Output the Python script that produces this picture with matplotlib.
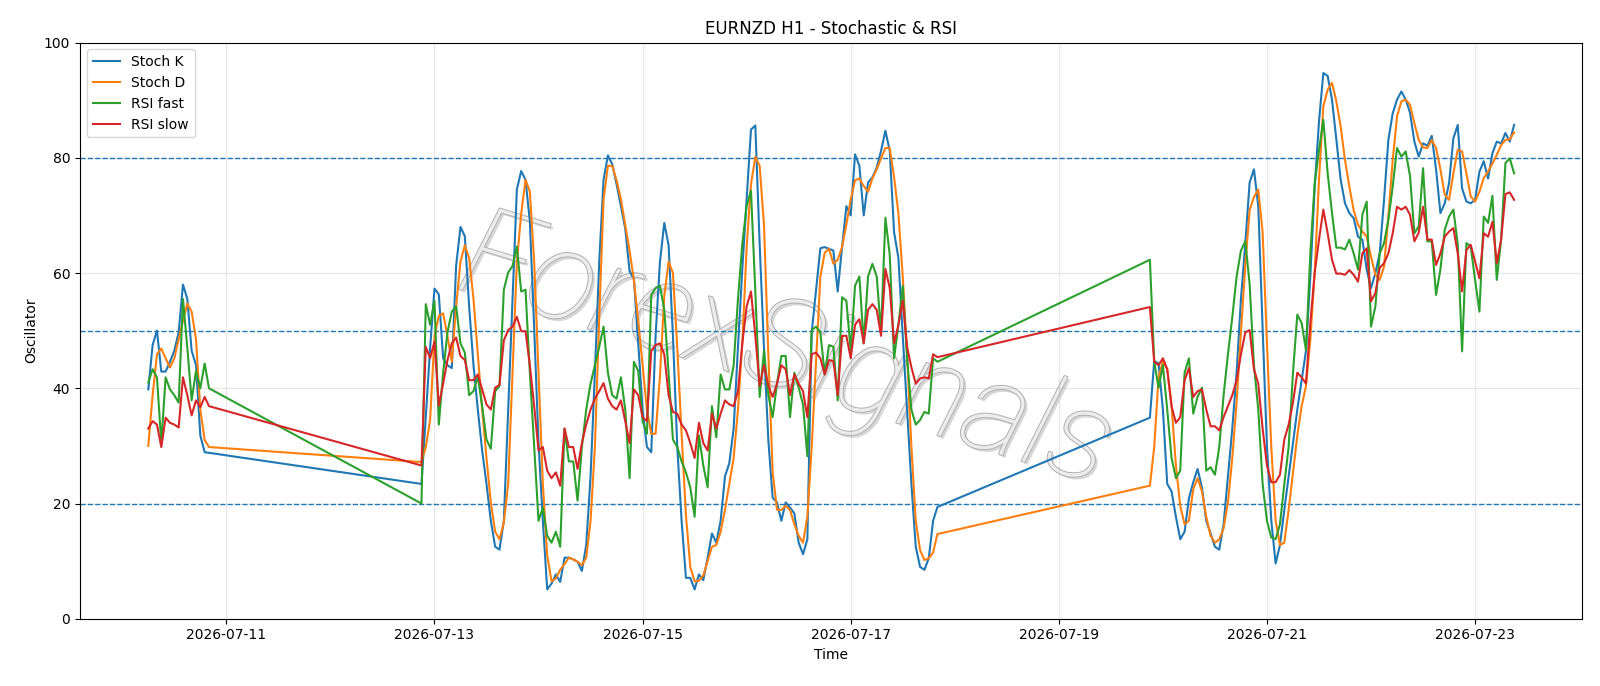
import matplotlib
matplotlib.use("Agg")
import matplotlib.pyplot as plt
import matplotlib.dates as mdates
import matplotlib.patheffects as pe
import numpy as np
import pandas as pd

# hourly bars, three trading stretches (weekends missing)
seg_starts = ["2026-07-10 06:00", "2026-07-12 21:00", "2026-07-19 21:00"]
seg_ends = ["2026-07-10 20:00", "2026-07-17 20:00", "2026-07-23 09:00"]

stoch_k = [
    39.8, 47.5, 50.0, 42.9, 42.9, 44.6, 46.5, 49.7, 58.0, 55.5, 46.5, 44.0, 31.8, 28.9, 28.8,
    23.4, 35.0, 47.0, 57.3, 56.3, 45.2, 44.0, 43.5, 61.3, 68.0,
    66.4, 54.2, 44.0, 36.3, 29.2, 23.4, 17.0, 12.5, 12.0, 17.0,
    36.3, 55.5, 74.5, 77.7, 76.2, 69.0, 50.4, 30.5, 17.0, 5.1,
    6.1, 7.7, 6.4, 10.6, 10.6, 10.3, 9.9, 8.3, 12.8, 24.7,
    42.7, 61.9, 76.2, 80.4, 78.9, 75.4, 71.6, 67.7, 60.3, 59.0,
    47.8, 36.3, 29.8, 28.9, 49.1, 61.9, 68.7, 64.8, 49.1, 29.8,
    17.0, 7.1, 7.1, 5.1, 7.7, 6.7, 10.6, 14.8, 13.2, 17.0,
    24.7, 27.0, 33.0, 47.2, 60.7, 72.8, 84.9, 85.6, 65.0, 47.0,
    31.0, 21.0, 20.2, 17.0, 20.2, 19.3, 18.3, 13.2, 11.2, 13.8,
    49.7, 57.0, 64.3, 64.5, 64.2, 63.9, 56.8, 64.5, 71.6, 70.0,
    80.6, 78.6, 70.0, 75.7, 76.6, 78.3, 81.2, 84.7, 81.2, 67.1,
    62.6, 49.1, 36.3, 23.4, 12.5, 9.0, 8.5, 10.5, 17.0, 19.4,
    34.9, 44.7, 44.3, 36.3, 23.4, 22.1, 17.7, 13.8, 15.1, 20.9,
    23.7, 26.0, 22.8, 17.0, 14.8, 12.5, 12.0, 16.4, 24.7, 33.0,
    42.7, 55.5, 65.1, 75.7, 78.0, 71.6, 50.4, 29.8, 17.0, 9.6,
    12.8, 18.9, 24.7, 30.5, 36.3, 41.4, 46.5, 59.4, 74.8, 86.3,
    94.7, 94.2, 90.1, 83.1, 76.2, 72.1, 70.4, 69.5, 66.3, 65.8,
    60.6, 57.4, 60.0, 63.4, 72.7, 83.1, 87.7, 90.1, 91.5, 90.1,
    87.8, 82.8, 80.2, 82.5, 82.1, 83.8, 78.0, 70.4, 72.1, 75.6,
    83.4, 85.7, 74.7, 72.4, 72.1, 72.7, 77.6, 79.4, 76.4, 80.8,
    82.8, 82.5, 84.3, 82.8, 85.7,
]

stoch_d = [
    30.0, 38.8, 45.9, 46.9, 45.2, 43.6, 45.2, 48.5, 51.7, 54.7, 53.3, 48.5, 36.3, 31.0, 29.8,
    27.2, 29.8, 34.5, 49.0, 52.6, 53.0, 49.0, 44.6, 54.2, 62.0,
    64.8, 62.6, 55.5, 45.9, 36.3, 27.9, 20.2, 15.1, 13.8, 16.7,
    23.4, 42.7, 61.9, 70.3, 76.2, 74.1, 61.9, 42.7, 23.4, 11.0,
    6.5, 7.0, 8.5, 9.5, 10.6, 10.3, 9.9, 9.3, 10.6, 17.0,
    29.8, 52.3, 72.8, 78.6, 78.6, 76.1, 72.8, 68.4, 63.9, 58.7,
    51.7, 44.0, 36.3, 32.1, 32.1, 42.0, 56.0, 62.0, 60.0, 47.0,
    32.0, 18.0, 9.0, 6.5, 6.6, 7.5, 10.0, 12.5, 12.8, 15.1,
    18.9, 23.4, 27.9, 36.3, 47.8, 64.5, 75.4, 80.2, 78.6, 68.4,
    45.9, 25.4, 18.9, 18.9, 19.6, 18.9, 16.4, 14.4, 13.2, 17.7,
    29.8, 44.6, 59.4, 63.5, 64.2, 61.6, 62.3, 64.5, 68.4, 72.8,
    76.1, 76.4, 75.1, 74.1, 76.4, 78.0, 79.9, 81.7, 81.7, 76.7,
    70.3, 59.4, 45.9, 29.8, 17.0, 11.9, 10.2, 10.5, 11.5, 14.7,
    23.1, 29.8, 42.0, 44.6, 43.3, 36.9, 26.6, 19.6, 16.4, 17.0,
    22.5, 24.4, 22.1, 17.7, 14.4, 13.2, 13.8, 15.7, 20.2, 27.9,
    37.5, 49.7, 61.3, 70.9, 73.2, 74.5, 67.1, 47.8, 29.8, 17.0,
    12.8, 13.2, 18.9, 25.4, 31.8, 36.9, 40.4, 48.4, 60.0, 76.2,
    88.9, 91.8, 93.0, 89.8, 85.4, 79.6, 75.0, 70.9, 68.4, 67.2,
    66.3, 62.8, 59.7, 58.8, 61.1, 69.8, 79.6, 87.2, 89.8, 90.1,
    89.2, 86.0, 83.1, 81.8, 81.7, 83.1, 81.7, 78.0, 73.6, 72.7,
    77.3, 81.4, 81.1, 77.3, 73.3, 72.4, 74.1, 76.5, 77.6, 79.0,
    80.5, 82.2, 83.1, 83.2, 84.4,
]

rsi_fast = [
    41.0, 43.3, 41.9, 30.5, 41.9, 39.8, 38.8, 37.5, 55.5, 47.0, 37.9, 43.0, 40.0, 44.3, 40.0,
    20.0, 54.6, 51.0, 55.2, 33.7, 42.7, 49.7, 53.3, 54.2, 47.8,
    46.2, 38.8, 39.5, 42.0, 36.9, 31.1, 29.5, 39.5, 40.4, 57.1,
    60.1, 61.2, 64.6, 56.8, 57.1, 42.7, 29.8, 17.0, 19.3, 14.4,
    13.2, 15.1, 12.5, 33.0, 27.3, 27.3, 20.5, 29.8, 36.3, 40.8,
    44.0, 47.2, 50.7, 42.7, 38.8, 38.2, 41.9, 36.3, 24.4, 44.6,
    43.0, 34.3, 32.1, 56.2, 57.4, 57.8, 53.6, 42.7, 31.1, 29.8,
    27.3, 25.4, 22.8, 17.7, 31.8, 26.6, 22.8, 36.9, 31.5, 42.4,
    39.8, 39.8, 44.0, 55.5, 65.1, 71.6, 74.3, 56.8, 38.5, 46.5,
    38.8, 35.0, 40.8, 45.6, 45.6, 35.0, 42.7, 40.1, 37.2, 28.2,
    50.1, 50.7, 49.7, 42.4, 47.5, 47.2, 37.9, 55.8, 55.2, 46.5,
    57.8, 59.4, 47.8, 59.4, 61.6, 59.4, 49.7, 69.6, 63.2, 45.2,
    51.0, 57.8, 45.2, 36.3, 33.7, 34.5, 35.9, 35.6, 45.2, 44.6,
    62.3, 44.6, 40.1, 44.0, 36.3, 27.9, 24.4, 25.7, 42.7, 45.2,
    35.6, 38.5, 40.1, 25.7, 26.3, 25.0, 29.8, 38.8, 45.9, 52.3,
    59.4, 63.9, 65.5, 58.1, 44.0, 36.3, 23.4, 17.0, 14.1, 13.8,
    16.4, 23.4, 29.8, 42.7, 52.8, 51.3, 46.6, 63.4, 75.5, 81.3,
    86.6, 77.3, 70.4, 64.4, 64.4, 64.1, 65.8, 63.4, 60.6, 70.1,
    72.4, 50.7, 54.2, 63.4, 65.2, 69.2, 75.0, 81.7, 80.2, 81.1,
    76.8, 66.9, 68.1, 78.2, 65.5, 65.5, 56.2, 60.6, 67.5, 69.8,
    71.0, 65.0, 46.4, 65.2, 64.6, 58.8, 53.3, 69.8, 68.7, 73.4,
    58.8, 65.8, 79.1, 79.9, 77.3,
]

rsi_slow = [
    33.0, 34.3, 33.7, 29.8, 34.9, 34.0, 33.7, 33.2, 41.9, 38.8, 35.3, 37.9, 36.7, 38.5, 36.9,
    26.6, 47.2, 45.2, 48.1, 37.0, 40.8, 44.9, 47.8, 48.8, 45.6,
    44.9, 41.4, 41.4, 42.4, 39.8, 37.2, 36.3, 40.1, 40.6, 48.3,
    50.1, 50.7, 52.4, 49.9, 49.9, 44.0, 36.9, 29.2, 29.8, 25.7,
    24.4, 25.4, 23.1, 33.0, 29.8, 29.8, 26.0, 30.5, 33.7, 36.3,
    38.2, 39.5, 40.9, 38.2, 36.9, 36.3, 37.9, 34.3, 30.5, 39.8,
    38.8, 35.0, 34.3, 46.5, 47.5, 47.8, 45.9, 38.8, 35.9, 35.6,
    33.7, 32.7, 30.5, 27.9, 34.0, 30.5, 29.2, 35.6, 33.0, 35.6,
    37.9, 37.2, 36.9, 39.5, 47.8, 54.2, 56.8, 49.1, 40.4, 44.0,
    40.4, 38.5, 40.8, 44.0, 43.3, 38.8, 42.4, 40.8, 39.5, 35.0,
    45.9, 46.2, 45.2, 42.4, 44.9, 44.7, 38.8, 49.1, 49.1, 45.2,
    51.0, 52.0, 47.8, 53.6, 54.6, 53.6, 49.1, 60.7, 57.4, 47.8,
    51.0, 55.2, 47.2, 43.6, 40.8, 41.7, 41.9, 41.7, 45.9, 45.4,
    54.1, 44.6, 44.0, 45.2, 43.3, 36.9, 34.0, 35.0, 41.4, 43.5,
    38.5, 39.5, 39.8, 36.3, 33.4, 33.4, 32.7, 35.0, 36.9, 38.8,
    41.4, 45.9, 49.7, 50.1, 43.3, 40.8, 33.0, 26.6, 23.7, 23.7,
    25.0, 31.1, 33.7, 37.5, 42.7, 41.9, 40.8, 51.3, 60.0, 65.8,
    71.0, 66.9, 62.3, 59.9, 59.9, 59.7, 60.5, 59.7, 58.5, 63.4,
    64.3, 55.1, 56.5, 60.9, 61.7, 63.4, 66.9, 71.5, 71.0, 71.5,
    70.1, 65.5, 67.0, 71.5, 65.8, 65.8, 61.4, 63.4, 66.3, 67.2,
    67.8, 63.4, 56.8, 64.0, 64.9, 62.0, 59.1, 66.9, 66.3, 68.9,
    61.7, 65.8, 73.7, 74.0, 72.7,
]

levels = [80, 50, 20]
tick_days = ["2026-07-11", "2026-07-13", "2026-07-15", "2026-07-17",
             "2026-07-19", "2026-07-21", "2026-07-23"]

times = pd.DatetimeIndex(np.concatenate([
    pd.date_range(s, e, freq="h").values for s, e in zip(seg_starts, seg_ends)
]))

fig, ax = plt.subplots(figsize=(16, 6.86), dpi=100)
fig.subplots_adjust(left=0.05, right=0.989, top=0.938, bottom=0.098)

# watermark
ax.text(0.47, 0.46, "ForexSignals", transform=ax.transAxes,
        ha="center", va="center", rotation=-17, fontsize=90,
        family=["Roboto", "DejaVu Sans"], weight="light", style="italic",
        color="#ececec", zorder=1,
        path_effects=[pe.withSimplePatchShadow(offset=(2, -2), shadow_rgbFace="#999999", alpha=0.4),
                      pe.Stroke(linewidth=1.4, foreground="#b0b0b0"), pe.Normal()])

ax.plot(times, stoch_k, label="Stoch K", zorder=3)
ax.plot(times, stoch_d, label="Stoch D", zorder=3)
ax.plot(times, rsi_fast, label="RSI fast", zorder=3)
ax.plot(times, rsi_slow, label="RSI slow", zorder=3)

for lvl in levels:
    ax.axhline(lvl, linestyle="--", linewidth=1, color="C0", zorder=2)

ax.set_ylim(0, 100)
ax.set_xticks(pd.to_datetime(tick_days))
ax.xaxis.set_major_formatter(mdates.DateFormatter("%Y-%m-%d"))
ax.grid(True, alpha=0.3)
ax.set_title("EURNZD H1 - Stochastic & RSI")
ax.set_xlabel("Time")
ax.set_ylabel("Oscillator")
ax.legend(loc="upper left")

fig.savefig("out.png", dpi=100)
